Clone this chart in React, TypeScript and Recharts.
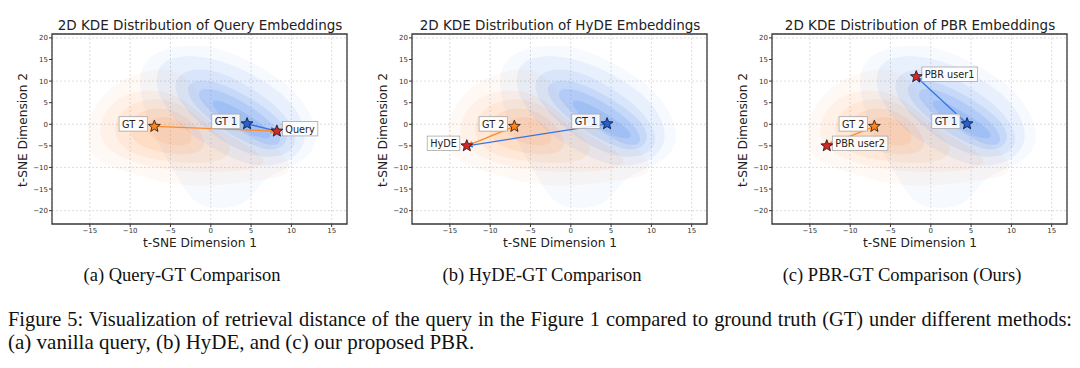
import React from "react";
import {
  ScatterChart,
  Scatter,
  XAxis,
  YAxis,
  CartesianGrid,
  ReferenceArea,
} from "recharts";

// axes
const xTicks = [-15, -10, -5, 0, 5, 10, 15];
const yTicks = [-20, -15, -10, -5, 0, 5, 10, 15, 20];
const xDomain: [number, number] = [-19.7, 16.9];
const yDomain: [number, number] = [-23.1, 20.9];

// KDE contour outlines (t-SNE coords), outermost level first
const orangeLevels: number[][][] = [
  [[-15.5, -2.2], [-14.6, 4.5], [-11.9, 9.5], [-8.8, 12.0], [-5.6, 13.2], [-2.9, 11.0], [-1.2, 6.1], [1.1, 1.2], [4.2, -2.2], [7.8, -4.7], [10.0, -8.9], [9.6, -12.1], [6.0, -13.0], [2.4, -13.9], [-1.2, -14.3], [-4.8, -13.9], [-8.8, -12.1], [-12.8, -9.6], [-15.0, -7.2]],
  [[-14.1, -2.2], [-13.1, 3.9], [-10.3, 7.4], [-7.0, 8.2], [-3.9, 6.5], [-1.1, 2.2], [1.7, -2.2], [5.4, -5.6], [7.3, -9.1], [4.5, -10.8], [-0.1, -11.2], [-4.8, -10.8], [-9.4, -9.1], [-12.6, -6.4]],
  [[-12.3, -2.2], [-11.4, 3.1], [-8.5, 5.9], [-5.2, 5.9], [-2.3, 3.1], [0.1, -1.3], [2.9, -4.8], [1.9, -8.4], [-1.9, -9.3], [-6.6, -8.4], [-10.4, -6.6]],
  [[-10.3, -1.2], [-9.3, 2.8], [-6.5, 4.1], [-3.7, 2.8], [-1.3, -1.2], [-0.4, -5.7], [-2.7, -7.4], [-6.5, -6.5], [-9.3, -4.8]],
  [[-8.6, -0.4], [-6.9, 1.8], [-4.6, 1.8], [-2.4, -1.3], [-2.2, -4.4], [-4.2, -5.3], [-6.9, -4.0]],
];

const blueLevels: number[][][] = [
  [[-8.6, 14.7], [-5.4, 18.0], [-0.8, 18.5], [2.9, 16.4], [7.4, 12.1], [11.0, 7.0], [13.3, -0.6], [12.9, -6.5], [10.1, -9.9], [6.5, -12.4], [4.6, -18.4], [1.9, -19.6], [-1.7, -19.2], [-3.5, -14.2], [-5.4, -8.3], [-7.6, -0.6], [-9.0, 7.9]],
  [[-6.5, 14.7], [-2.8, 16.3], [1.8, 14.7], [6.5, 10.3], [10.2, 5.1], [12.1, -1.8], [11.1, -7.0], [8.3, -9.7], [4.6, -9.7], [0.9, -6.2], [-2.4, -2.7], [-5.2, 2.4], [-7.0, 8.5]],
  [[-4.0, 12.3], [-0.2, 13.2], [4.1, 9.6], [8.3, 4.3], [10.8, -1.9], [10.3, -6.4], [7.4, -8.1], [3.6, -6.4], [-0.2, -1.9], [-3.1, 3.4], [-4.7, 7.9]],
  [[-2.6, 10.2], [0.7, 10.2], [5.0, 6.1], [8.9, 0.9], [9.8, -3.6], [8.3, -6.3], [5.6, -5.4], [1.7, -1.8], [-1.7, 3.5], [-3.1, 7.5]],
  [[-1.7, 8.5], [1.2, 8.1], [5.5, 3.6], [8.3, -0.8], [8.9, -4.4], [7.4, -5.3], [4.5, -2.6], [0.7, 1.9], [-1.4, 5.4]],
  [[-0.3, 6.3], [2.6, 4.6], [6.4, 0.1], [7.8, -2.6], [6.9, -3.8], [4.0, -1.7], [0.7, 2.4]],
];

// embeddings
const gtPoints = [
  { name: "GT 1", x: 4.5, y: 0.1 },
  { name: "GT 2", x: -7.0, y: -0.5 },
];
const queryPoints = [{ name: "Query", x: 8.2, y: -1.6 }];
const hydePoints = [{ name: "HyDE", x: -12.9, y: -5.0 }];
const pbrPoints = [
  { name: "PBR user1", x: -1.8, y: 11.0 },
  { name: "PBR user2", x: -12.9, y: -5.0 },
];

const queryLinks = [["GT 1", "Query"], ["GT 2", "Query"]];
const hydeLinks = [["GT 1", "HyDE"], ["GT 2", "HyDE"]];
const pbrLinks = [["GT 1", "PBR user1"], ["GT 2", "PBR user2"]];

const titles = [
  "2D KDE Distribution of Query Embeddings",
  "2D KDE Distribution of HyDE Embeddings",
  "2D KDE Distribution of PBR Embeddings",
];
const subCaptions = [
  "(a) Query-GT Comparison",
  "(b) HyDE-GT Comparison",
  "(c) PBR-GT Comparison (Ours)",
];
const captionLine1 =
  "Figure 5: Visualization of retrieval distance of the query in the Figure 1 compared to ground truth (GT) under different methods:";
const captionLine2 = "(a) vanilla query, (b) HyDE, and (c) our proposed PBR.";

// styles
const orangeAlpha = [0.05, 0.07, 0.09, 0.11, 0.12];
const blueAlpha = [0.05, 0.08, 0.1, 0.13, 0.16, 0.19];
const starColor: Record<string, string> = {
  "GT 1": "#2460d8",
  "GT 2": "#ff8418",
};
const linkColor: Record<string, string> = {
  "GT 1": "#3574e4",
  "GT 2": "#ff8a2c",
};
const labelSide: Record<string, string> = {
  "GT 1": "left",
  "GT 2": "left",
  Query: "right",
  HyDE: "left",
  "PBR user1": "right",
  "PBR user2": "right",
};
const SANS = "'DejaVu Sans', sans-serif";
const SERIF = "'Liberation Serif', 'Times New Roman', serif";

let ctx: CanvasRenderingContext2D | null = null;
const textWidth = (s: string) => {
  if (!ctx) ctx = document.createElement("canvas").getContext("2d");
  if (!ctx) return s.length * 6;
  ctx.font = "9.7px 'DejaVu Sans'";
  return ctx.measureText(s).width;
};

const starPath = (cx: number, cy: number, R: number, r: number) => {
  let d = "";
  for (let i = 0; i < 10; i++) {
    const a = -Math.PI / 2 + (i * Math.PI) / 5;
    const rad = i % 2 === 0 ? R : r;
    d += (i === 0 ? "M" : "L") + (cx + rad * Math.cos(a)).toFixed(2) + "," + (cy + rad * Math.sin(a)).toFixed(2);
  }
  return d + "Z";
};

const Empty = () => <g />;

const StarLabel = (props: any) => {
  const { cx, cy, payload } = props;
  const name: string = payload.name;
  const w = textWidth(name) + 6;
  const h = 14.5;
  const bx = labelSide[name] === "left" ? cx - 7 - w : cx + 5.5;
  const by = cy - 2.5 - h / 2;
  return (
    <g>
      <rect x={bx} y={by} width={w} height={h} fill="#fff" fillOpacity={0.85} stroke="#a8a8a8" strokeWidth={0.8} />
      <text x={bx + w / 2} y={by + h / 2 + 0.5} textAnchor="middle" dominantBaseline="central" fontSize={9.7} fontFamily={SANS} fill="#222">
        {name}
      </text>
      <path d={starPath(cx, cy, 6.2, 2.7)} fill={starColor[name] || "#d62728"} stroke="#111" strokeWidth={0.8} />
    </g>
  );
};

const fmt = (v: number) => (v < 0 ? "\u2212" + Math.abs(v) : String(v));
const toPts = (lvl: number[][]) => lvl.map(([x, y]) => ({ x, y }));

type Pt = { name: string; x: number; y: number };

const Panel = ({ title, points, links }: { title: string; points: Pt[]; links: string[][] }) => {
  const all = [...gtPoints, ...points];
  const byName: Record<string, Pt> = {};
  all.forEach((p) => (byName[p.name] = p));
  return (
    <div style={{ position: "relative", width: 360, height: 262 }}>
      <ScatterChart width={360} height={262} margin={{ top: 34, right: 13, bottom: 0, left: 22 }}>
        <CartesianGrid stroke="#cfcfcf" strokeDasharray="2 2" strokeWidth={0.7} />
        <XAxis
          type="number"
          dataKey="x"
          domain={xDomain}
          ticks={xTicks}
          allowDataOverflow
          height={38}
          tickSize={3}
          tickMargin={1}
          axisLine={false}
          tickLine={{ stroke: "#333" }}
          tick={{ fontSize: 7, fill: "#333", fontFamily: SANS }}
          tickFormatter={fmt}
        />
        <YAxis
          type="number"
          dataKey="y"
          domain={yDomain}
          ticks={yTicks}
          allowDataOverflow
          width={30}
          tickSize={3}
          tickMargin={1}
          axisLine={false}
          tickLine={{ stroke: "#333" }}
          tick={{ fontSize: 7, fill: "#333", fontFamily: SANS }}
          tickFormatter={fmt}
        />
        {orangeLevels.map((lvl, i) => (
          <Scatter
            key={"o" + i}
            data={toPts(lvl)}
            fill="#ff8c3a"
            line={{ fill: "#ff8c3a", fillOpacity: orangeAlpha[i], stroke: "none" }}
            lineJointType="basisClosed"
            shape={Empty}
            isAnimationActive={false}
          />
        ))}
        {blueLevels.map((lvl, i) => (
          <Scatter
            key={"b" + i}
            data={toPts(lvl)}
            fill="#4f88ec"
            line={{ fill: "#4f88ec", fillOpacity: blueAlpha[i], stroke: "none" }}
            lineJointType="basisClosed"
            shape={Empty}
            isAnimationActive={false}
          />
        ))}
        {links.map(([a, b]) => (
          <Scatter
            key={a + b}
            data={[byName[a], byName[b]]}
            fill={linkColor[a]}
            line={{
              stroke: linkColor[a],
              strokeWidth: 1.3,
              fill: "none",
              markerEnd: a === "GT 1" ? "url(#arrowBlue)" : "url(#arrowOrange)",
            }}
            shape={Empty}
            isAnimationActive={false}
          />
        ))}
        <Scatter data={all} shape={StarLabel} isAnimationActive={false} />
        <ReferenceArea
          x1={xDomain[0]}
          x2={xDomain[1]}
          y1={yDomain[0]}
          y2={yDomain[1]}
          fill="none"
          fillOpacity={0}
          stroke="#3a3a3a"
          strokeWidth={1.3}
          ifOverflow="visible"
        />
      </ScatterChart>
      <div style={{ position: "absolute", left: 200, top: 25, transform: "translate(-50%,-50%)", whiteSpace: "nowrap", fontFamily: SANS, fontSize: 13.5, color: "#222" }}>
        {title}
      </div>
      <div style={{ position: "absolute", left: 200, top: 243, transform: "translate(-50%,-50%)", whiteSpace: "nowrap", fontFamily: SANS, fontSize: 12.2, color: "#222" }}>
        t-SNE Dimension 1
      </div>
      <div style={{ position: "absolute", left: 23, top: 130, transform: "translate(-50%,-50%) rotate(-90deg)", whiteSpace: "nowrap", fontFamily: SANS, fontSize: 12.2, color: "#222" }}>
        t-SNE Dimension 2
      </div>
    </div>
  );
};

export default function App() {
  const panels = [
    { points: queryPoints, links: queryLinks },
    { points: hydePoints, links: hydeLinks },
    { points: pbrPoints, links: pbrLinks },
  ];
  return (
    <div style={{ position: "absolute", left: 0, top: 0, width: 1080, height: 368, background: "#fff", overflow: "hidden" }}>
      <svg width={0} height={0} style={{ position: "absolute" }}>
        <defs>
          <marker id="arrowBlue" viewBox="0 0 10 10" refX="9" refY="5" markerWidth="7" markerHeight="7" markerUnits="userSpaceOnUse" orient="auto">
            <path d="M0,1 L10,5 L0,9 Z" fill="#3574e4" />
          </marker>
          <marker id="arrowOrange" viewBox="0 0 10 10" refX="9" refY="5" markerWidth="7" markerHeight="7" markerUnits="userSpaceOnUse" orient="auto">
            <path d="M0,1 L10,5 L0,9 Z" fill="#ff8a2c" />
          </marker>
        </defs>
      </svg>
      {panels.map((p, i) => (
        <div key={i} style={{ position: "absolute", left: i * 360, top: 0 }}>
          <Panel title={titles[i]} points={p.points} links={p.links} />
          <div style={{ position: "absolute", left: 182, top: 275, transform: "translate(-50%,-50%)", whiteSpace: "nowrap", fontFamily: SERIF, fontSize: 18.5, color: "#111" }}>
            {subCaptions[i]}
          </div>
        </div>
      ))}
      <div style={{ position: "absolute", left: 8, width: 1064, top: 308, fontFamily: SERIF, fontSize: 20.4, color: "#111", lineHeight: "23px", textAlign: "justify", textAlignLast: "justify", whiteSpace: "nowrap" as any }}>
        {captionLine1}
      </div>
      <div style={{ position: "absolute", left: 8, top: 331, fontFamily: SERIF, fontSize: 21, color: "#111", lineHeight: "23px", whiteSpace: "nowrap" }}>
        {captionLine2}
      </div>
    </div>
  );
}
